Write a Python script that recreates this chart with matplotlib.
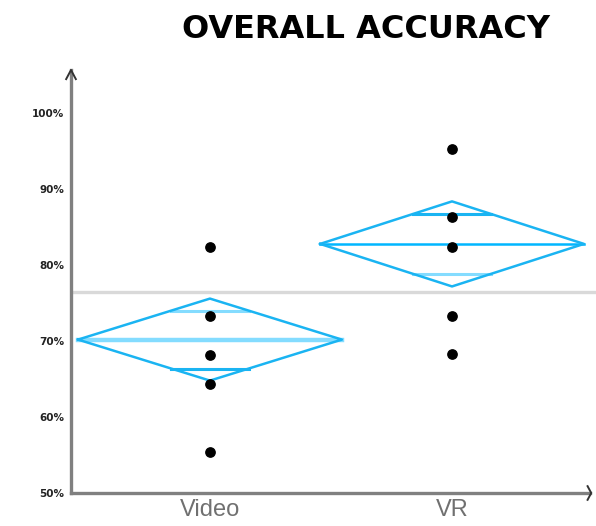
import numpy as np
import matplotlib.pyplot as plt

# accuracy per participant (%)
groups = ['Video', 'VR']
video_scores = [82.4, 73.3, 68.2, 64.4, 55.4]
vr_scores = [95.3, 86.3, 82.4, 73.3, 68.3]
group_means = [70.2, 82.8]
group_ci = [5.4, 5.6]
grand_mean = 76.5

edge_blue = '#1ab4f2'
light_blue = '#84dcff'
axis_gray = '#808080'

fig = plt.figure(figsize=(5.96, 5.26), dpi=100)
ax = fig.add_axes([71 / 596, 33 / 526, (590 - 71) / 596, (493 - 70) / 526])
ax.set_xlim(-0.574, 1.57)
ax.set_ylim(50, 105.7)

# grand mean reference line runs past the axis end
ax.plot([-0.56, 1.62], [grand_mean, grand_mean], color='#d9d9d9', lw=2.4,
        clip_on=False, zorder=1)

hw = 0.545
for i, (m, ci) in enumerate(zip(group_means, group_ci)):
    xs = [i - hw, i, i + hw, i, i - hw]
    ys = [m, m + ci, m, m - ci, m]
    ax.plot(xs, ys, color=edge_blue, lw=1.8, zorder=3)
    # mean line
    if i == 0:
        ax.plot([i - hw, i + hw], [m, m], color=light_blue, lw=3.2, zorder=2)
    else:
        ax.plot([i - hw, i + hw], [m, m], color='#00b6ff', lw=1.8, zorder=2)
    # overlap marks
    off = ci / np.sqrt(2)
    ow = hw * (1 - off / ci)
    ax.plot([i - ow, i + ow], [m + off, m + off], color=light_blue if i == 0 else edge_blue,
            lw=2.2, zorder=2)
    ax.plot([i - ow, i + ow], [m - off, m - off], color=edge_blue if i == 0 else light_blue,
            lw=2.2, zorder=2)

for i, vals in enumerate([video_scores, vr_scores]):
    ax.scatter([i] * len(vals), vals, s=45, color='black', zorder=4)

yticks = [50, 60, 70, 80, 90, 100]
ax.set_yticks(yticks)
ax.set_yticklabels([f'{t}%' for t in yticks], fontsize=7.5, fontweight='bold',
                   color='#222222')
ax.set_xticks([0, 1])
ax.set_xticklabels(groups, fontsize=17, color='#707070', family='Liberation Sans')
ax.tick_params(axis='both', length=0)
ax.tick_params(axis='y', pad=5)
ax.tick_params(axis='x', pad=4)

for s in ['top', 'right']:
    ax.spines[s].set_visible(False)
for s in ['left', 'bottom']:
    ax.spines[s].set_color(axis_gray)
    ax.spines[s].set_linewidth(2.4)

# arrow heads at the axis ends
ax.plot([-0.574 - 0.02, -0.574, -0.574 + 0.02], [104.5, 105.7, 104.5], color='#333333',
        lw=1.4, clip_on=False, zorder=5)
ax.plot([1.56, 1.575, 1.56], [50.9, 50, 49.1], color='#333333', lw=1.4,
        clip_on=False, zorder=5)

fig.text(366 / 596, 1 - 29 / 526, 'OVERALL ACCURACY', ha='center', va='center',
         fontsize=23, fontweight='heavy', family='DejaVu Sans')

fig.savefig('out.png', dpi=100)
